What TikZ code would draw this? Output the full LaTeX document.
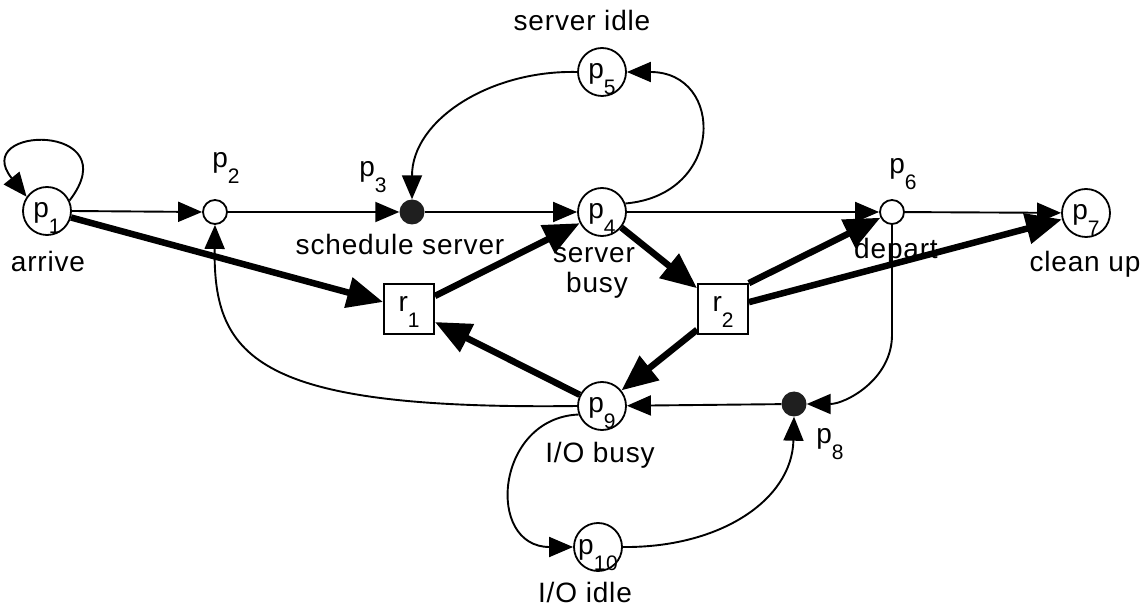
\documentclass[tikz,border=0pt]{standalone}
\usepackage{fontspec}
\setmainfont{Liberation Sans}[LetterSpace=3]
\usetikzlibrary{arrows.meta}
\newcommand\sbs[1]{\raisebox{-16pt}{\fontsize{21}{21}\selectfont #1}}
\begin{document}
\begin{tikzpicture}[x=1pt,y=-1pt,
 every node/.style={font=\fontsize{28}{30}\selectfont},
 bigplace/.style={circle,draw,line width=1.8pt,fill=white,minimum size=48pt,inner sep=0pt,text height=20pt,text depth=6pt},
 smallplace/.style={circle,draw,line width=1.8pt,fill=white,minimum size=24pt,inner sep=0pt},
 token/.style={circle,fill=black!88,minimum size=25pt,inner sep=0pt},
 trans/.style={rectangle,draw,line width=1.8pt,fill=white,minimum size=50pt,inner sep=0pt,text height=14pt,text depth=8pt},
 lbl/.style={inner sep=0pt,anchor=base},
 tarc/.style={line width=1.9pt,-{Triangle[length=24pt,width=20pt]}},
 harc/.style={line width=6.5pt,-{Triangle[length=36pt,width=30pt]}}]
\useasboundingbox (0,0) rectangle (1146,609);
% labels
\node[lbl] (larrive) at (48,272) {arrive};
\node[lbl] (lp2) at (226,168) {p\sbs{2}};
\node[lbl] (lp3) at (373,177) {p\sbs{3}};
\node[lbl] (lsched) at (400,255) {schedule server};
\node[lbl] (lserver) at (594,263) {server};
\node[lbl] (lbusy) at (597,293) {busy};
\node[lbl] (lidle) at (582,31) {server idle};
\node[lbl] (lp6) at (903,174) {p\sbs{6}};
\node[lbl] (ldepart) at (896,259) {depart};
\node[lbl] (lclean) at (1085,272) {clean up};
\node[lbl] (lp8) at (830,443) {p\sbs{8}};
\node[lbl] (liobusy) at (600,462) {I/O busy};
\node[lbl] (lioidle) at (585,602) {I/O idle};
% places and transitions
\node[bigplace] (p1) at (47,211) {p\sbs{1}};
\node[smallplace] (p2) at (215,212) {};
\node[token] (p3) at (412,212) {};
\node[bigplace] (p4) at (602,212) {p\sbs{4}};
\node[bigplace] (p5) at (602,72) {p\sbs{5}};
\node[smallplace] (p6) at (892,212) {};
\node[bigplace] (p7) at (1086,213) {p\sbs{7}};
\node[trans] (r1) at (409,309) {r\sbs{1}};
\node[trans] (r2) at (723,309) {r\sbs{2}};
\node[token] (p8) at (794,404) {};
\node[bigplace] (p9) at (602,406) {p\sbs{9}};
\node[bigplace] (p10) at (598,547) {p\sbs{10}};
% thin arcs
\draw[tarc] (p1.east) -- (p2.west);
\draw[tarc] (p2) -- (p3);
\draw[tarc] (p3) -- (p4);
\draw[tarc] (p4) -- (p6);
\draw[tarc] (p6) -- (p7);
\draw[tarc] (p8) -- (p9);
\draw[tarc] (p1.25) .. controls +(60,-78) and +(-58,-72) .. (p1.145);
\draw[tarc] (p4.20) .. controls (725,195) and (725,72) .. (p5.east);
\draw[tarc] (p5.west) .. controls (490,70) and (412,120) .. (p3.north);
\draw[tarc] (p9.west) .. controls (260,410) and (213,360) .. (p2.south);
\draw[tarc] (p6.south) -- ++(0,110) .. controls +(0,45) and (845,404) .. (p8.east);
\draw[tarc] (p9.200) .. controls (495,418) and (485,547) .. (p10.west);
\draw[tarc] (p10.east) .. controls (720,548) and (792,500) .. (p8.south);
% thick arcs
\draw[harc] (p1) -- (r1);
\draw[harc] (r1) -- (p4);
\draw[harc] (p4) -- (r2);
\draw[harc] (r2.north east) -- (p6);
\draw[harc] (r2) -- (p7);
\draw[harc] (r2) -- (p9);
\draw[harc] (p9) -- (r1);
\end{tikzpicture}
\end{document}
